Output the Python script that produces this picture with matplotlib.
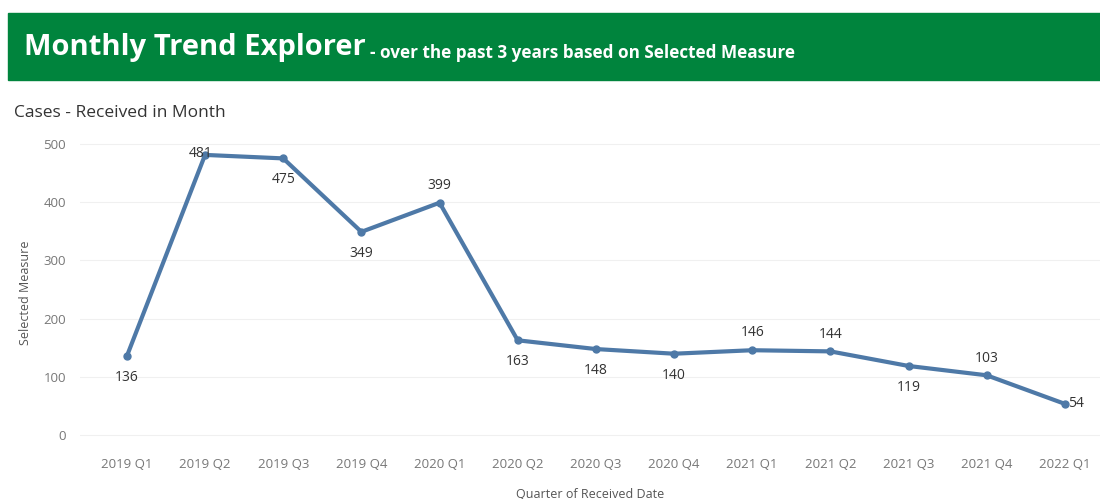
import numpy as np
import matplotlib.pyplot as plt
from matplotlib.patches import Rectangle

# data
quarters = ['2019 Q1', '2019 Q2', '2019 Q3', '2019 Q4', '2020 Q1', '2020 Q2', '2020 Q3',
            '2020 Q4', '2021 Q1', '2021 Q2', '2021 Q3', '2021 Q4', '2022 Q1']
values = [136, 481, 475, 349, 399, 163, 148, 140, 146, 144, 119, 103, 54]
label_pos = ['below', 'left', 'below', 'below', 'above', 'below', 'below',
             'below', 'above', 'above', 'below', 'above', 'right']
yticks = [0, 100, 200, 300, 400, 500]

plt.rcParams['font.family'] = ['Open Sans', 'DejaVu Sans']

fig = plt.figure(figsize=(11, 4.99), dpi=100)

# green header band
fig.patches.append(Rectangle((8 / 1100, 1 - 80 / 499), 1 - 8 / 1100, 67 / 499,
                             transform=fig.transFigure, color='#00843d', zorder=0))
t1 = fig.text(24 / 1100, 1 - 48 / 499, 'Monthly Trend Explorer', color='white',
              fontsize=21, fontweight='bold', va='center', ha='left')
fig.canvas.draw()
bb = t1.get_window_extent()
fig.text(bb.x1 / 1100 + 0.004, 1 - 53 / 499, '- over the past 3 years based on Selected Measure',
         color='white', fontsize=12.3, fontweight='bold', va='center', ha='left')

fig.text(14 / 1100, 1 - 113 / 499, 'Cases - Received in Month', color='#333333',
         fontsize=12.5, va='center', ha='left')

ax = fig.add_axes([80 / 1100, 1 - 447 / 499, 1 - 80 / 1100, 309 / 499])
x = np.arange(len(quarters))
ax.plot(x, values, color='#4e79a7', lw=3, marker='o', ms=5, zorder=3)

for xi, v, p in zip(x, values, label_pos):
    if p == 'below':
        ax.annotate(str(v), (xi, v), xytext=(0, -10), textcoords='offset points',
                    ha='center', va='top', fontsize=10, color='#333333')
    elif p == 'above':
        ax.annotate(str(v), (xi, v), xytext=(0, 7), textcoords='offset points',
                    ha='center', va='bottom', fontsize=10, color='#333333')
    elif p == 'left':
        ax.annotate(str(v), (xi, v), xytext=(-3, 1), textcoords='offset points',
                    ha='center', va='center', fontsize=10, color='#333333')
    else:
        ax.annotate(str(v), (xi, v), xytext=(2, 0), textcoords='offset points',
                    ha='left', va='center', fontsize=10, color='#333333')

ax.set_xlim(-0.6, 12.45)
ax.set_ylim(-20, 510)
ax.set_xticks(x)
ax.set_xticklabels(quarters)
ax.set_yticks(yticks)
ax.tick_params(length=0, colors='#777777', labelsize=9.5)
ax.tick_params(axis='x', pad=8)
ax.tick_params(axis='y', pad=10)
ax.grid(axis='y', color='#f0f0f0', lw=0.8)
ax.set_axisbelow(True)
for s in ax.spines.values():
    s.set_visible(False)
ax.set_ylabel('Selected Measure', color='#555555', fontsize=9, labelpad=8)
ax.set_xlabel('Quarter of Received Date', color='#555555', fontsize=9, labelpad=12)

fig.savefig('out.png', dpi=100)
